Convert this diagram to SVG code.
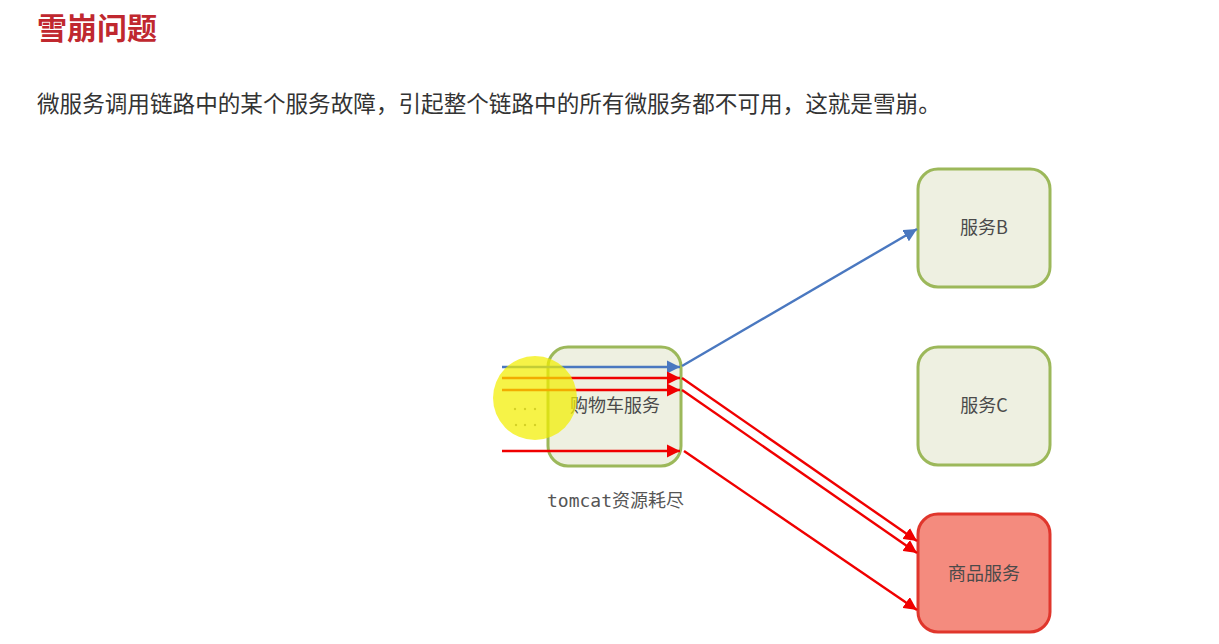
<svg xmlns="http://www.w3.org/2000/svg" width="1219" height="644" viewBox="0 0 1219 644">
<style>
.t{font-family:"Noto Sans CJK SC","Noto Sans",sans-serif}
.node{fill:#eef0e1;stroke:#9cb85a;stroke-width:3}
.bad{fill:#f48b7e;stroke:#e0362c;stroke-width:3}
.lbl{font-family:"Noto Sans CJK SC","Noto Sans",sans-serif;font-size:18px;fill:#4a4a4a;text-anchor:middle}
.red{stroke:#f00000;stroke-width:2.4;fill:none}
.blue{stroke:#4a78c0;stroke-width:2.4;fill:none}
</style>
<defs>
<marker id="ar" viewBox="0 0 10 10" refX="10" refY="5" markerWidth="5.5" markerHeight="5.5" orient="auto" markerUnits="strokeWidth"><path d="M0,0 L10,5 L0,10 z" fill="#f00000"/></marker>
<marker id="ab" viewBox="0 0 10 10" refX="10" refY="5" markerWidth="5.5" markerHeight="5.5" orient="auto" markerUnits="strokeWidth"><path d="M0,0 L10,5 L0,10 z" fill="#4a78c0"/></marker>
</defs>
<rect width="1219" height="644" fill="#ffffff"/>
<text class="t" x="37" y="39" font-size="30" font-weight="bold" fill="#c0282f">雪崩问题</text>
<text class="t" x="37" y="112" font-size="22.6" fill="#333">微服务调用链路中的某个服务故障，引起整个链路中的所有微服务都不可用，这就是雪崩。</text>
<g id="cart"><rect class="node" x="548" y="347" width="133" height="119" rx="20"/><text class="lbl" x="615" y="412">购物车服务</text></g>
<g id="svcB"><rect class="node" x="918" y="169" width="132" height="118" rx="20"/><text class="lbl" x="984" y="234">服务B</text></g>
<g id="svcC"><rect class="node" x="918" y="347" width="132" height="118" rx="20"/><text class="lbl" x="984" y="412">服务C</text></g>
<g id="goods"><rect class="bad" x="918" y="514" width="132" height="118" rx="20"/><text class="lbl" x="984" y="580">商品服务</text></g>
<text x="547" y="507" font-family="'DejaVu Sans Mono','Noto Sans CJK SC',monospace" font-size="18" fill="#555">tomcat资源耗尽</text>
<g id="connectors">
<line class="blue" x1="502" y1="367" x2="680" y2="367" marker-end="url(#ab)"/>
<line class="red" x1="502" y1="378" x2="680" y2="378" marker-end="url(#ar)"/>
<line class="red" x1="502" y1="390" x2="680" y2="390" marker-end="url(#ar)"/>
<line class="red" x1="502" y1="451" x2="680" y2="451" marker-end="url(#ar)"/>
<line class="blue" x1="682" y1="366" x2="917" y2="229" marker-end="url(#ab)"/>
<line class="red" x1="682" y1="378" x2="917" y2="541" marker-end="url(#ar)"/>
<line class="red" x1="682" y1="390" x2="917" y2="553" marker-end="url(#ar)"/>
<line class="red" x1="684" y1="451" x2="917" y2="610" marker-end="url(#ar)"/>
</g>
<g fill="#888"><circle cx="515" cy="409" r="1.2"/><circle cx="525" cy="409" r="1.2"/><circle cx="535" cy="409" r="1.2"/><circle cx="516" cy="425" r="1.2"/><circle cx="525" cy="425" r="1.2"/><circle cx="535" cy="425" r="1.2"/></g>
<circle cx="535" cy="398" r="42" fill="#f2ef00" opacity="0.72"/>
</svg>
